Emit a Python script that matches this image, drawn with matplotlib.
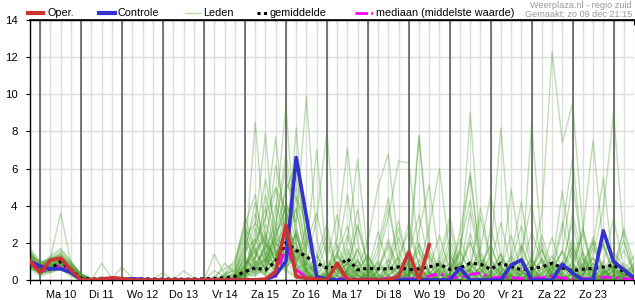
import matplotlib
matplotlib.use('Agg')
import matplotlib.pyplot as plt
import matplotlib.dates as mdates
from matplotlib.lines import Line2D
import pandas as pd

plt.rcParams['font.family'] = ['Liberation Sans', 'DejaVu Sans']

# tijdstappen (6-uurlijks) en daglabels
tijd = pd.date_range('2018-12-09 18:00', '2018-12-24 12:00', freq='6h')
dag_labels = ['Ma 10', 'Di 11', 'Wo 12', 'Do 13', 'Vr 14', 'Za 15', 'Zo 16',
              'Ma 17', 'Di 18', 'Wo 19', 'Do 20', 'Vr 21', 'Za 22', 'Zo 23']
dag_midden = pd.date_range('2018-12-10 12:00', periods=14, freq='D')
middernacht = pd.date_range('2018-12-10', '2018-12-24', freq='D')

# neerslag (mm) per 6 uur
oper = [1.02, 0.4, 1.08, 1.17, 0.54, 0.0, 0.0, 0.05, 0.12, 0.08, 0.0, 0.0,
        0.0, 0.0, 0.0, 0.0, 0.0, 0.0, 0.0, 0.0, 0.0, 0.0, 0.0, 0.05, 0.45,
        2.96, 0.18, 0.1, 0.05, 0.0, 0.9, 0.0, 0.0, 0.0, 0.0, 0.0, 0.2, 1.5,
        0.0, 1.9]
controle = [1.0, 0.75, 0.6, 0.6, 0.4, 0.0, 0.0, 0.0, 0.0, 0.03, 0.06, 0.03,
            0.0, 0.0, 0.0, 0.0, 0.0, 0.0, 0.0, 0.0, 0.0, 0.0, 0.0, 0.0, 0.27,
            1.0, 6.6, 3.4, 0.18, 0.05, 0.0, 0.0, 0.0, 0.0, 0.0, 0.0, 0.0, 0.0,
            0.0, 0.0, 0.0, 0.0, 0.66, 0.0, 0.0, 0.0, 0.0, 0.8, 1.08, 0.0, 0.0,
            0.0, 0.85, 0.37, 0.0, 0.0, 2.65, 1.0, 0.55, 0.1]
gemiddelde = [0.95, 0.55, 0.6, 1.0, 0.55, 0.08, 0.05, 0.06, 0.08, 0.05, 0.04,
              0.06, 0.05, 0.04, 0.05, 0.04, 0.05, 0.06, 0.08, 0.12, 0.2, 0.45,
              0.65, 0.55, 1.0, 2.0, 1.6, 1.25, 0.9, 0.65, 0.68, 1.15, 0.55,
              0.63, 0.6, 0.6, 0.7, 0.55, 0.6, 0.7, 0.85, 0.57, 0.65, 0.9, 0.85,
              0.58, 0.9, 0.72, 0.55, 0.62, 0.7, 0.9, 0.65, 0.5, 0.58, 0.62,
              0.7, 0.8, 0.45, 0.15]
mediaan = [0.9, 0.5, 0.55, 0.8, 0.5, 0.02, 0.0, 0.0, 0.0, 0.0, 0.0, 0.0, 0.0,
           0.0, 0.0, 0.0, 0.0, 0.0, 0.0, 0.0, 0.0, 0.0, 0.02, 0.05, 0.2, 1.8,
           0.55, 0.15, 0.05, 0.02, 0.05, 0.1, 0.05, 0.05, 0.05, 0.08, 0.15,
           0.05, 0.1, 0.2, 0.35, 0.1, 0.15, 0.3, 0.38, 0.1, 0.15, 0.12, 0.08,
           0.1, 0.12, 0.22, 0.1, 0.05, 0.08, 0.1, 0.15, 0.12, 0.08, 0.02]

leden = [
    [1.2, 0.6, 0.8, 1.0, 0.5, 0.1, 0, 0, 0, 0, 0, 0, 0, 0, 0, 0, 0, 0, 0, 0.1, 0.3,
     1.2, 8.5, 2.0, 0.5, 3.1, 0.8, 0.2, 0, 0.4, 1.5, 0.3, 0, 0, 0.6, 2.2, 0.4, 0, 0, 0.3, 1.0,
     0.2, 0, 0.5, 3.4, 0.9, 0, 0, 0.2, 0.6, 0.1, 0, 0, 0.8, 2.5, 0.4, 0, 0.2, 0.6, 0.1],
    [0.9, 0.4, 0.6, 0.9, 0.6, 0.05, 0, 0.1, 0, 0, 0, 0, 0, 0, 0, 0, 0, 0, 0, 0.2, 0.6,
     2.4, 3.0, 7.9, 1.2, 0.4, 2.6, 0.5, 0, 0, 0.2, 0.9, 3.8, 0.6, 0, 0, 0.1, 0.4, 1.6, 0.3, 0,
     0, 0.7, 2.1, 0.2, 0, 0, 1.3, 4.2, 0.8, 0, 0, 0.3, 0.9, 0.1, 0, 0, 1.1, 0.2, 0],
    [1.5, 0.8, 1.0, 1.3, 0.7, 0.2, 0, 0.9, 0.1, 0, 0, 0, 0, 0, 0, 0, 0, 0, 0, 0, 0.2,
     0.8, 1.9, 3.3, 7.7, 2.0, 0.3, 0, 1.2, 3.0, 0.5, 0, 0, 0.2, 0.8, 0.1, 0, 0, 2.7, 5.1, 0.9,
     0, 0, 0.3, 0.6, 0, 0, 0.2, 1.8, 0.5, 0, 0, 0.4, 3.6, 1.1, 0, 0, 0.1, 0.5, 0.2],
    [1.0, 0.5, 0.7, 0.8, 0.4, 0.05, 0, 0, 0, 0, 0, 0, 0, 0, 0, 0, 0, 0, 0, 0.1, 0.4,
     1.6, 2.2, 1.0, 3.5, 9.4, 1.8, 0.6, 0.2, 0, 0.7, 2.4, 0.5, 0, 0, 1.0, 3.2, 0.6, 0, 0, 0.2,
     0.9, 0.2, 0, 0, 2.8, 0.7, 0, 0, 0.5, 1.6, 0.2, 0, 0, 0.3, 1.2, 0.4, 0, 0, 0.3],
    [1.1, 0.7, 1.2, 3.6, 0.9, 0.3, 0.1, 0, 0, 0, 0, 0, 0, 0, 0, 0, 0, 0, 0, 0, 0.1,
     0.3, 1.1, 4.6, 2.0, 1.3, 8.2, 1.5, 0.2, 0, 0, 0.4, 1.7, 0.3, 0, 0, 0, 0.6, 2.0, 0.4, 0,
     0, 1.5, 5.8, 1.2, 0.2, 0, 0, 0.4, 1.1, 0.3, 0, 0.6, 1.9, 0.2, 0, 0, 0.8, 2.6, 0.5],
    [0.8, 0.3, 0.5, 0.7, 0.3, 0, 0, 0, 0.1, 0.7, 0.1, 0, 0, 0, 0, 0, 0, 0, 0, 0, 0,
     0.5, 2.8, 0.9, 2.3, 4.0, 3.1, 9.9, 2.2, 0.4, 0, 0, 0.3, 0.9, 0.1, 0, 0, 0, 0.5, 1.3, 0.2,
     0, 0, 0.2, 0.7, 1.9, 0.3, 0, 0, 0.1, 0.6, 0, 0, 0, 0.9, 2.0, 0.3, 0, 0.2, 0.1],
    [1.3, 0.9, 0.9, 1.1, 0.6, 0.15, 0, 0, 0, 0, 0, 0, 0, 0, 0, 0, 0, 0, 0, 0.3, 0.8,
     2.9, 1.4, 0.6, 1.8, 5.2, 4.4, 1.6, 7.0, 1.0, 0.2, 0, 0, 0.5, 2.6, 0.7, 0, 0, 0.2, 0.4, 0,
     0, 0.4, 3.7, 0.8, 0, 0, 0.2, 0.5, 0, 0, 0.7, 4.8, 1.0, 0, 0, 0.4, 0.7, 0.1, 0],
    [0.7, 0.4, 0.4, 0.6, 0.3, 0.05, 0, 0, 0, 0, 0, 0, 0, 0.4, 0, 0, 0, 0, 0, 0, 0.1,
     0.6, 0.4, 2.1, 1.0, 2.7, 1.9, 0.8, 3.3, 8.0, 1.4, 0.3, 0, 0, 0.5, 1.8, 0.2, 0, 0, 0.1, 0.8,
     3.0, 0.4, 0, 0, 0.3, 1.4, 0.2, 0, 0, 0.6, 2.3, 0.4, 0, 0, 1.9, 5.5, 0.6, 0, 0],
    [1.4, 0.6, 0.9, 1.2, 0.8, 0.2, 0, 0, 0, 0, 0, 0, 0, 0, 0, 0, 0, 0, 0, 0, 0,
     0.2, 0.9, 1.5, 0.7, 1.1, 2.5, 0.5, 0, 0.3, 1.2, 4.6, 1.0, 0, 0, 0.2, 0.7, 1.4, 7.8, 1.2, 0,
     0, 0.3, 0.5, 0.1, 0, 0, 1.0, 2.9, 0.6, 0, 0, 0, 0.3, 1.5, 0.4, 0, 0, 0.5, 1.3],
    [0.6, 0.5, 0.7, 0.9, 0.5, 0.1, 0, 0, 0, 0, 0, 0, 0, 0, 0, 0.5, 0.1, 0, 0, 0, 0.2,
     1.0, 0.5, 0.3, 2.4, 3.9, 0.9, 0.2, 0, 0, 0.6, 2.0, 6.5, 1.3, 0.2, 0, 0, 0.4, 7.7, 2.1, 0.3,
     0, 0, 0.6, 1.4, 0.2, 0, 0, 0.3, 0.8, 0, 0, 0.5, 2.2, 0.6, 0, 0, 0.3, 2.8, 0.9],
    [1.7, 1.0, 1.1, 1.5, 0.9, 0.35, 0.05, 0, 0, 0, 0, 0, 0, 0, 0, 0, 0, 0, 0, 0, 0,
     0.1, 0.6, 1.2, 4.1, 2.3, 0.7, 0.1, 0, 0.5, 1.9, 0.6, 0, 0, 1.1, 3.4, 6.4, 6.3, 1.5, 0.3, 0,
     0, 0.2, 1.0, 0.3, 0, 0, 0.1, 0.4, 0, 0, 0.6, 3.1, 0.8, 0, 0, 0.2, 1.2, 0.3, 0],
    [0.9, 0.7, 0.6, 0.8, 0.6, 0.1, 0, 0, 0, 0, 0, 0, 0, 0, 0, 0, 0, 0, 1.4, 0.3, 0.5,
     1.8, 3.6, 1.3, 0.4, 1.5, 0.6, 0, 0, 0.2, 0.8, 0.3, 0, 0, 0.4, 1.1, 0.2, 0, 0, 0.6, 2.4,
     0.5, 0.9, 9.0, 1.6, 0.2, 0, 0, 0.3, 1.2, 0.1, 0, 0, 0.4, 0.9, 0, 0, 0.5, 1.6, 0.4],
    [1.1, 0.5, 0.8, 0.9, 0.7, 0.2, 0, 0, 0, 0, 0, 0, 0, 0, 0, 0, 0, 0, 0, 0, 0,
     0.4, 0.2, 0.8, 2.9, 6.1, 2.4, 0.7, 0.3, 0, 0, 0.2, 1.0, 0.4, 0, 0, 0.3, 1.7, 0.5, 0, 0,
     0.6, 2.2, 0.8, 0.3, 1.4, 8.2, 1.1, 0, 0, 0, 0.7, 1.5, 0.2, 0, 0, 0.9, 3.3, 0.7, 0.1],
    [1.3, 0.7, 1.0, 1.4, 0.8, 0.25, 0, 0, 0, 0, 0, 0, 0, 0, 0, 0, 0, 0, 0, 0.9, 0.4,
     2.2, 1.0, 0.4, 1.1, 3.6, 1.2, 0.4, 0, 0, 0.3, 0.9, 0.2, 0, 0.5, 2.0, 0.6, 0, 0, 0.2, 0.5,
     0.1, 0, 0, 0.7, 1.9, 0.4, 0, 0.3, 8.4, 1.7, 0.2, 0, 0, 0.6, 2.1, 0.5, 0, 0, 0.2],
    [0.8, 0.6, 0.7, 1.0, 0.4, 0.1, 0, 0, 0, 0, 0, 0, 0, 0, 0, 0, 0, 0, 0, 0, 0,
     0.3, 1.3, 2.6, 0.8, 2.0, 3.8, 1.0, 0.2, 0, 0, 0.5, 1.6, 0.3, 0, 0, 0.2, 0.6, 0.1, 0, 0.4,
     1.8, 0.4, 0, 0, 0.3, 1.1, 0.2, 0, 0.9, 3.6, 12.3, 7.4, 9.5, 2.8, 0.4, 1.0, 0.2, 0, 0],
    [1.0, 0.4, 0.5, 0.7, 0.5, 0.05, 0, 0, 0, 0, 0, 0, 0, 0, 0, 0, 0, 0, 0, 0.2, 0.7,
     3.4, 1.6, 0.5, 0.2, 1.0, 2.7, 0.9, 0.3, 0, 0, 0.6, 3.0, 0.9, 0, 0, 0, 0.3, 0.7, 0.1, 0,
     0, 0.5, 2.5, 0.6, 0, 0, 0.2, 0.8, 0.3, 0, 0.4, 1.6, 5.3, 1.4, 0.2, 0, 0.3, 0.9, 0.4],
    [1.2, 0.8, 0.9, 1.2, 0.6, 0.15, 0, 0, 0, 0, 0, 0, 0, 0, 0, 0, 0, 0, 0, 0, 0.1,
     0.7, 2.0, 3.9, 1.4, 0.6, 1.6, 0.4, 0, 0.3, 1.0, 0.2, 0, 0.4, 1.9, 4.4, 0.8, 0, 0, 0.2, 0.6,
     0.1, 0, 0, 0.3, 1.0, 0.2, 0, 0, 0.6, 1.7, 0.4, 0, 0.5, 2.6, 7.5, 1.8, 0.3, 0, 0],
    [0.7, 0.3, 0.6, 0.7, 0.4, 0.05, 0, 0, 0, 0, 0, 0, 0, 0, 0, 0, 0, 0, 0, 0, 0,
     0.2, 0.5, 1.4, 2.2, 1.8, 5.0, 1.3, 0.2, 0, 0.2, 0.7, 0.2, 0, 0, 0.6, 2.8, 0.7, 0, 0, 0.4,
     1.3, 0.3, 0, 0, 0.2, 0.5, 0, 0, 0.3, 1.1, 0.4, 0, 0, 0.2, 1.4, 3.8, 9.0, 2.1, 0.3],
    [1.6, 0.9, 1.2, 1.6, 1.0, 0.3, 0.1, 0, 0, 0, 0, 0, 0, 0, 0, 0, 0, 0, 0, 0, 0.3,
     1.5, 4.2, 1.7, 0.6, 2.5, 1.1, 0.3, 0, 0.4, 2.3, 7.1, 2.0, 0.5, 0, 0, 0.3, 0.9, 0.2, 0, 0,
     0.5, 1.6, 0.4, 0, 0, 0.7, 2.4, 0.5, 0, 0, 0.3, 1.0, 0.2, 0, 0, 0.4, 1.1, 0.6, 0.2],
    [0.9, 0.6, 0.8, 1.1, 0.7, 0.1, 0, 0, 0, 0, 0, 0, 0, 0, 0, 0, 0, 0, 0, 0, 0,
     0.4, 1.0, 0.7, 1.9, 3.0, 0.8, 2.9, 1.4, 0.3, 0, 0, 0.6, 2.1, 5.0, 6.8, 1.6, 0.4, 0, 0, 0.3,
     0.7, 0, 0, 0.4, 1.2, 0.3, 0, 0, 0.5, 2.0, 0.6, 0, 0, 0.3, 0.9, 0.2, 0, 0.4, 0.8],
    [1.0, 0.5, 0.6, 0.9, 0.5, 0.1, 0, 0, 0, 0, 0, 0, 0, 0, 0, 0, 0, 0, 0.2, 0.6, 0.9,
     2.6, 0.8, 0.2, 0.6, 1.6, 0.4, 0, 0.2, 1.1, 3.5, 0.9, 0, 0, 0.2, 0.7, 0.1, 0, 0.5, 2.9, 6.0,
     1.4, 0.2, 0, 0, 0.3, 0.8, 0.1, 0, 0, 0.4, 1.3, 0.3, 0, 0, 0.6, 2.0, 0.5, 0, 0],
    [1.3, 0.6, 0.7, 1.0, 0.6, 0.2, 0, 0, 0, 0, 0, 0, 0, 0, 0, 0, 0, 0, 0, 0, 0,
     0.6, 2.3, 5.4, 2.8, 1.0, 0.3, 0, 0, 0.2, 0.5, 1.2, 0.3, 0, 0, 0.2, 0.9, 3.1, 0.8, 0, 0,
     0, 0.4, 1.0, 0.2, 0, 0.3, 4.9, 1.3, 0.2, 0, 0, 0.5, 1.5, 0.3, 0, 0, 0.6, 0.3, 0.1],
    [0.8, 0.5, 0.5, 0.6, 0.4, 0.05, 0, 0, 0, 0, 0, 0, 0, 0, 0, 0, 0, 0, 0, 0, 0.2,
     1.1, 0.6, 1.8, 6.2, 3.3, 0.9, 0.3, 0, 0, 0.4, 1.5, 0.3, 0, 0, 0.5, 1.2, 0.2, 0, 0, 0.2,
     0.6, 0, 0.7, 3.9, 1.1, 0.2, 0, 0, 0.4, 1.0, 0.1, 0, 0.3, 0.8, 0.2, 0, 0, 0.3, 0.5],
    [1.1, 0.6, 0.9, 1.1, 0.6, 0.1, 0, 0.2, 0, 0, 0, 0, 0, 0, 0, 0, 0, 0, 0, 0, 0,
     0.2, 0.4, 1.0, 2.6, 4.8, 6.3, 2.1, 0.5, 0, 0, 0.3, 0.8, 0.1, 0, 0, 0, 0.4, 1.9, 0.5, 0,
     0, 0.3, 0.6, 0, 0, 0.2, 0.7, 0.2, 0, 0, 0.5, 2.7, 6.6, 1.2, 0, 0, 0.2, 0.7, 0.3],
    [1.4, 0.8, 1.0, 1.3, 0.7, 0.2, 0, 0, 0, 0, 0, 0, 0, 0, 0, 0, 0, 0, 0, 0, 0,
     0.5, 1.7, 0.8, 0.3, 2.0, 4.5, 3.0, 0.8, 0.2, 0, 0, 0.4, 1.3, 0.3, 0, 0, 0.2, 0.8, 0.2, 0,
     0.3, 2.6, 5.6, 1.0, 0, 0, 0.3, 0.9, 0.1, 0, 0, 0.2, 0.6, 0, 0, 0.3, 0.8, 0.2, 0],
    [0.6, 0.4, 0.5, 0.8, 0.3, 0, 0, 0, 0, 0, 0, 0, 0, 0, 0, 0, 0, 0, 0, 0.1, 0.4,
     1.9, 0.7, 0.3, 1.2, 0.5, 0.1, 0, 0.5, 2.0, 0.6, 0, 0, 0.3, 1.0, 0.2, 0, 0, 0.4, 1.4, 0.3,
     0, 0, 0.2, 0.5, 0, 0, 0.5, 1.6, 4.1, 1.0, 0.2, 0, 0, 0.3, 0.9, 0.2, 0, 0, 0.1],
    [1.2, 0.7, 0.8, 1.0, 0.5, 0.15, 0, 0, 0, 0, 0, 0, 0, 0, 0, 0, 0, 0, 0, 0, 0,
     0.9, 1.2, 2.4, 0.9, 1.3, 0.5, 0.2, 0, 0.6, 1.4, 2.9, 0.6, 0, 0, 0.3, 0.8, 0.2, 0, 0.2, 0.6,
     1.5, 0.4, 0, 0, 0.2, 0.6, 0.1, 0, 0.3, 1.2, 0.3, 0, 0, 0.7, 2.3, 0.6, 0, 0.2, 0.4],
    [0.9, 0.5, 0.6, 0.8, 0.5, 0.1, 0, 0, 0, 0, 0, 0, 0, 0, 0, 0, 0, 0, 0, 0, 0,
     0.1, 0.3, 0.6, 1.5, 2.1, 0.7, 0.2, 0, 0, 0.2, 0.5, 0.1, 0, 0, 0.1, 0.4, 0.9, 0.2, 0, 0,
     0.3, 0.9, 0.3, 0, 0, 0.1, 0.3, 0, 0, 0.2, 0.7, 0.2, 0, 0, 0.2, 0.5, 0.1, 0, 0],
    [1.0, 0.6, 0.7, 0.9, 0.6, 0.1, 0, 0, 0, 0, 0, 0, 0, 0, 0, 0, 0, 0, 0, 0, 0,
     0.3, 0.8, 1.1, 0.4, 0.9, 1.7, 0.5, 0.1, 0, 0, 0.2, 0.6, 0.2, 0, 0, 0, 0.3, 0.6, 0.1, 0,
     0, 0.2, 0.8, 0.2, 0, 0, 0.4, 1.0, 0.2, 0, 0, 0.1, 0.4, 0.1, 0, 0, 0.2, 0.6, 0.2],
    [1.1, 0.7, 0.8, 1.2, 0.6, 0.15, 0, 0, 0, 0, 0, 0, 0, 0, 0, 0, 0, 0, 0, 0, 0,
     0.7, 0.3, 0.9, 1.6, 0.6, 0.2, 0.5, 1.3, 0.4, 0, 0, 0.2, 0.5, 0.1, 0, 0.2, 0.8, 0.3, 0, 0,
     0.1, 0.5, 0.2, 0, 0.1, 0.4, 0.9, 0.2, 0, 0, 0.3, 0.7, 0.1, 0, 0, 0.1, 0.5, 0.3, 0],
    [1.5, 0.9, 1.1, 1.4, 0.8, 0.3, 0, 0, 0, 0, 0, 0, 0, 0, 0, 0, 0, 0, 0, 0.3, 1.1,
     3.0, 4.6, 1.2, 0.5, 1.9, 2.4, 0.6, 0.1, 0, 0.6, 1.7, 0.5, 0, 0, 0.4, 1.3, 2.6, 0.8, 0, 0,
     0.3, 1.8, 4.3, 1.1, 0, 0, 0.5, 1.2, 0.3, 0, 0.2, 0.9, 3.1, 0.6, 0, 0.4, 1.5, 0.7, 0.2],
    [0.7, 0.5, 0.9, 1.2, 0.5, 0.05, 0, 0, 0, 0, 0, 0, 0, 0, 0, 0, 0, 0, 0, 0, 0,
     0.4, 2.1, 3.4, 5.0, 3.7, 1.5, 0.4, 0, 0.2, 0.7, 0.3, 0, 0.3, 1.5, 3.9, 1.0, 0, 0, 0.4, 0.8,
     0.1, 0, 0.3, 1.1, 0.4, 0, 0, 0.6, 2.6, 0.9, 0.1, 0, 0.3, 1.2, 0.3, 0, 0, 0.4, 0.6],
    [1.2, 0.3, 0.6, 0.9, 0.4, 0.1, 0, 0, 0, 0, 0, 0, 0, 0, 0, 0, 0, 0, 0.5, 0.2, 0,
     0.9, 1.6, 2.2, 4.9, 2.6, 3.9, 1.1, 0.3, 0, 0, 0.5, 2.9, 0.7, 0, 0, 0.2, 0.5, 0.1, 0, 0.6,
     2.2, 0.5, 0, 0, 0.9, 3.1, 0.7, 0, 0, 0.4, 1.0, 0.2, 0, 0, 0.3, 1.9, 0.4, 0, 0],
    [1.0, 0.8, 1.3, 1.7, 1.0, 0.25, 0, 0, 0, 0, 0, 0, 0, 0, 0, 0, 0, 0, 0, 0, 0,
     0.2, 0.9, 1.7, 3.0, 6.8, 2.9, 0.8, 0.2, 0, 0.3, 1.0, 0.3, 0, 0, 0.6, 2.3, 0.6, 0, 0.2, 1.2,
     3.4, 0.8, 0, 0, 0.3, 0.7, 0.1, 0, 0.5, 2.4, 0.7, 0, 0, 0.2, 0.5, 0.1, 0, 0.3, 0.9],
    [0.6, 0.2, 0.4, 0.6, 0.2, 0, 0, 0, 0, 0, 0, 0, 0, 0, 0, 0, 0, 0, 0, 0, 0,
     1.4, 3.1, 2.0, 1.1, 4.3, 2.0, 0.5, 0, 0.3, 1.3, 0.4, 0, 0, 0.2, 0.8, 0.3, 0, 0.4, 1.6, 0.5,
     0, 0, 0.5, 1.7, 4.6, 1.2, 0.2, 0, 0, 0.3, 0.8, 0.2, 0, 0.5, 1.7, 0.6, 0, 0, 0.2],
    [1.3, 1.0, 0.8, 1.0, 0.7, 0.2, 0, 0, 0, 0, 0, 0, 0, 0, 0, 0, 0, 0, 0, 0, 0,
     0.8, 1.5, 0.6, 2.7, 3.2, 5.6, 2.4, 0.6, 0.1, 0, 0.4, 1.1, 0.2, 0, 0, 0.3, 1.4, 3.5, 0.9, 0,
     0, 0.2, 0.6, 0, 0, 0.4, 1.3, 0.4, 0, 0, 0.2, 0.6, 1.8, 0.5, 0, 0, 0.6, 2.1, 0.4],
    [0.9, 0.6, 0.5, 0.8, 0.6, 0.15, 0, 0, 0, 0, 0, 0, 0, 0, 0, 0, 0, 0, 0, 0, 0,
     0.5, 0.7, 1.9, 1.3, 2.2, 1.0, 2.0, 3.6, 1.2, 0.2, 0, 0.5, 1.4, 0.3, 0, 0, 0.2, 0.6, 0, 0,
     0.4, 1.5, 0.4, 0, 0, 0.2, 0.8, 1.9, 0.4, 0, 0, 0.3, 1.0, 2.8, 0.6, 0, 0, 0.2, 0.5],
    [1.1, 0.4, 0.7, 1.0, 0.4, 0.05, 0, 0, 0, 0, 0, 0, 0, 0, 0, 0, 0, 0, 0, 0, 0,
     0.3, 0.6, 0.4, 1.2, 2.8, 1.4, 0.5, 0.9, 2.5, 0.6, 0, 0, 0.3, 0.9, 0.2, 0, 0.3, 1.1, 0.4, 0,
     0, 0.6, 2.0, 0.6, 0, 0, 0.3, 0.5, 0, 0, 0.4, 1.6, 0.5, 0, 0, 0.3, 0.7, 0.2, 0],
    [1.5, 0.7, 1.2, 1.3, 0.9, 0.3, 0, 0, 0, 0, 0, 0, 0, 0, 0, 0, 0, 0, 0, 0, 0,
     0.6, 1.2, 3.0, 1.6, 0.7, 1.3, 0.3, 0, 0, 0.4, 0.9, 0.2, 0, 0, 0.2, 0.7, 0.2, 0, 0, 0.3,
     1.0, 0.3, 0, 0, 0.5, 1.4, 0.3, 0, 0.2, 0.7, 0.2, 0, 0, 0.4, 1.2, 0.3, 0, 0.3, 0.7],
    [0.8, 0.6, 0.6, 0.7, 0.5, 0.1, 0, 0, 0, 0, 0, 0, 0, 0, 0, 0, 0, 0, 0, 0, 0.2,
     1.3, 0.5, 1.1, 2.0, 1.4, 0.6, 0.9, 0.3, 0, 0, 0.2, 0.6, 0.1, 0, 0, 0.4, 1.0, 0.3, 0, 0,
     0.2, 0.5, 0.1, 0, 0, 0.3, 0.6, 0, 0, 0.3, 0.9, 0.2, 0, 0, 0.2, 0.6, 0.2, 0, 0.1],
]

W, H = 635, 300
fig = plt.figure(figsize=(W / 100, H / 100), dpi=100)
ax = fig.add_axes([30 / W, 20 / H, 604 / W, 260 / H])

x = mdates.date2num(tijd)

for lid in leden:
    ax.plot(x[:len(lid)], lid, color='#3f9a1f', alpha=0.33, lw=1.0, zorder=2)

ax.plot(x[:len(mediaan)], mediaan, color='#ff00ff', lw=2,
        ls=(0, (4, 1.5, 1, 1.5)), zorder=3)
ax.plot(x[:len(gemiddelde)], gemiddelde, color='black', lw=2.3,
        ls=(0, (1, 1.1)), zorder=4)
ax.plot(x[:len(controle)], controle, color='#3333cc', lw=2.6, zorder=5)
ax.plot(x[:len(oper)], oper, color='#cc3333', lw=2.6, zorder=6)

# rasters
for d in mdates.date2num(middernacht):
    ax.axvline(d, color='#555555', lw=1.1, zorder=1)
ax.xaxis.remove_overlapping_locs = False
ax.set_xticks(x, minor=True)
ax.set_xticks(mdates.date2num(dag_midden))
ax.set_xticklabels(dag_labels)
ax.grid(which='minor', axis='x', color='#dddddd', lw=1, zorder=0)
ax.set_yticks(range(0, 15, 2))
ax.grid(axis='y', color='#dddddd', lw=1, zorder=0)
ax.set_axisbelow(True)

ax.set_xlim(x[0], x[-1])
ax.set_ylim(0, 14)

ax.tick_params(axis='x', which='major', length=0, pad=7, labelsize=7.8)
ax.tick_params(axis='x', which='minor', length=3, width=0.8, direction='out')
ax.tick_params(axis='y', length=3, width=0.8, pad=6, labelsize=8.2)

top = ax.secondary_xaxis('top')
top.set_xticks(x)
top.tick_params(direction='in', length=3.5, width=0.8, labeltop=False)
top.spines['top'].set_linewidth(1.2)

ax.spines['right'].set_visible(False)
for s in ['left', 'bottom', 'top']:
    ax.spines[s].set_linewidth(1)

# legenda boven de grafiek
def fx(px):
    return px / W

def fy(py):
    return 1 - py / H

ly = 13
fig.add_artist(Line2D([fx(28), fx(43)], [fy(ly), fy(ly)], color='#cc3333', lw=3))
fig.text(fx(48), fy(ly), 'Oper.', fontsize=7.8, va='center')
fig.add_artist(Line2D([fx(99), fx(115)], [fy(ly), fy(ly)], color='#3333cc', lw=3))
fig.text(fx(118), fy(ly), 'Controle', fontsize=7.8, va='center')
fig.add_artist(Line2D([fx(185), fx(200)], [fy(ly), fy(ly)], color='#b7dba8', lw=1))
fig.text(fx(203), fy(ly), 'Leden', fontsize=7.8, va='center')
fig.add_artist(Line2D([fx(257), fx(268)], [fy(ly), fy(ly)], color='black', lw=2.2,
                      ls=(0, (1, 1.1))))
fig.text(fx(270), fy(ly), 'gemiddelde', fontsize=7.8, va='center')
fig.add_artist(Line2D([fx(355), fx(373)], [fy(ly), fy(ly)], color='#ff00ff', lw=2,
                      ls=(0, (4.5, 1.2, 0.6, 10))))
fig.text(fx(376), fy(ly), 'mediaan (middelste waarde)', fontsize=7.8, va='center')

fig.text(fx(632), fy(5), 'Weerplaza.nl - regio zuid', fontsize=6.6,
         color='#999999', ha='right', va='center')
fig.text(fx(632), fy(14.5), 'Gemaakt: zo 09 dec 21:15', fontsize=6.6,
         color='#999999', ha='right', va='center')

fig.savefig('out.png', dpi=100)
